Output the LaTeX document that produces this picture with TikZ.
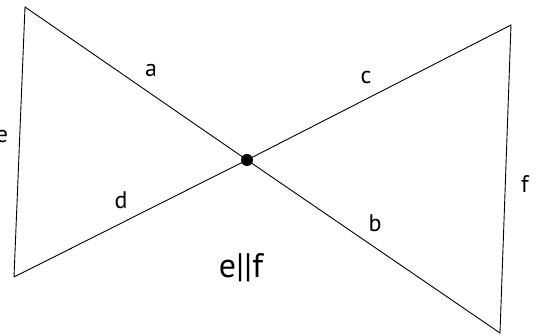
\documentclass[tikz,border=0pt]{standalone}
\usepackage{fontspec}
\setmainfont{PT Sans}
\usetikzlibrary{positioning}

\begin{document}
\begin{tikzpicture}[x=1pt,y=-1pt,line width=0.9pt,
    lbl/.style={font=\fontsize{24}{24}\selectfont,inner sep=0pt,anchor=base},
    dot/.style={circle,fill,inner sep=0pt,minimum size=12pt}]
  \useasboundingbox (0,0) rectangle (539,336);
  \coordinate (tl) at (25,7);
  \coordinate (bl) at (14,277);
  \coordinate (tr) at (511,25);
  \coordinate (br) at (500,333);
  \node[dot] (m) at (247,160) {};
  \draw (bl) -- (tl) -- (m.center) -- (br) -- (tr) -- (m.center) -- (bl);

  \node[lbl] (la) at (151,77) {a};
  \node[lbl] (lc) at (366,84) {c};
  \node[lbl] (le) at (2,143) {e};
  \node[lbl] (ld) at (121,209) {d};
  \node[lbl] (lb) at (375,232) {b};
  \node[lbl] (lf) at (525,193) {f};
  \node[lbl,font=\fontsize{34}{34}\selectfont] (par) at (241,278) {e||f};
\end{tikzpicture}
\end{document}
